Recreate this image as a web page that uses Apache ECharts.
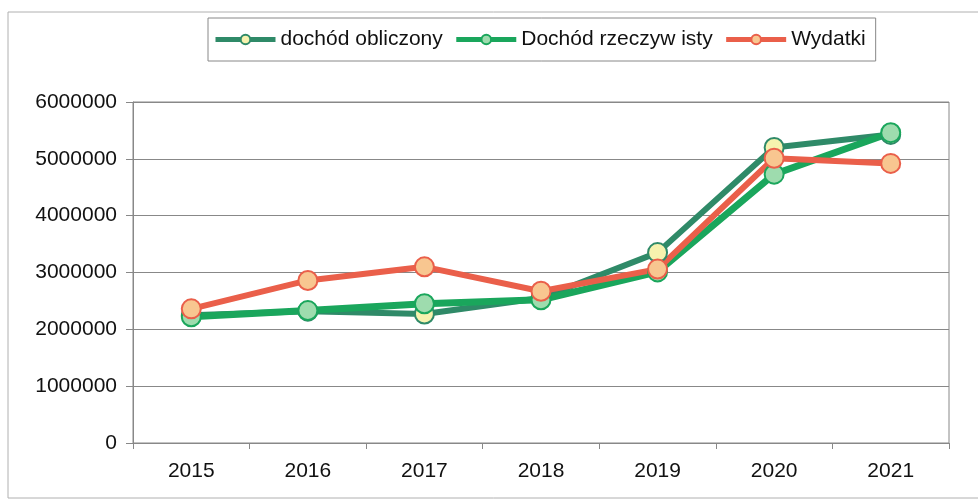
<!DOCTYPE html>
<html>
<head>
<meta charset="utf-8">
<script src="https://cdn.jsdelivr.net/npm/echarts@6/dist/echarts.min.js"></script>
<style>
  html, body { margin: 0; padding: 0; background: #fff; }
  #chart { width: 978px; height: 501px; }
</style>
</head>
<body>
<div id="chart"></div>
<script>
// lata (kategorie osi X)
var years = ['2015', '2016', '2017', '2018', '2019', '2020', '2021'];
// wartości
var dochodObliczony = [2250000, 2320000, 2270000, 2550000, 3350000, 5200000, 5430000];
var dochodRzeczywisty = [2220000, 2330000, 2450000, 2520000, 3010000, 4730000, 5460000];
var wydatki = [2360000, 2860000, 3100000, 2670000, 3060000, 5010000, 4920000];
// oś Y
var yMin = 0, yMax = 6000000, yStep = 1000000;

var chart = echarts.init(document.getElementById('chart'));

function lineSeries(name, data, lineColor, fillColor, width) {
  return {
    name: name,
    type: 'line',
    data: data,
    symbol: 'circle',
    symbolSize: 19,
    lineStyle: { color: lineColor, width: width },
    itemStyle: { color: fillColor, borderColor: lineColor, borderWidth: 2 },
    emphasis: { disabled: true },
    z: 2
  };
}

chart.setOption({
  animation: false,
  textStyle: { fontFamily: 'Liberation Sans, Arial, sans-serif' },
  graphic: [{
    type: 'rect',
    shape: { x: 8, y: 12, width: 990, height: 486 },
    style: { fill: 'none', stroke: '#b0b0b0', lineWidth: 1 },
    silent: true
  }],
  legend: {
    left: 208,
    top: 18,
    padding: [11, 10, 11, 5],
    itemGap: 11,
    itemWidth: 60,
    itemHeight: 12,
    borderColor: '#888',
    borderWidth: 1,
    lineStyle: { width: 5 },
    textStyle: { fontSize: 21, color: '#111' },
    data: ['dochód obliczony', 'Dochód rzeczyw isty', 'Wydatki']
  },
  grid: {
    left: 133, right: 29, top: 102, bottom: 58,
    show: true, borderColor: '#888', borderWidth: 1
  },
  xAxis: {
    type: 'category',
    data: years,
    boundaryGap: true,
    axisLine: { lineStyle: { color: '#888', width: 1 } },
    axisTick: { show: true, length: 6, lineStyle: { color: '#888' } },
    axisLabel: { fontSize: 21, color: '#111', margin: 18 }
  },
  yAxis: {
    type: 'value',
    min: yMin, max: yMax, interval: yStep,
    axisLine: { show: true, lineStyle: { color: '#888', width: 1 } },
    axisTick: { show: true, length: 7, lineStyle: { color: '#888' } },
    splitLine: { lineStyle: { color: '#888', width: 1 } },
    axisLabel: {
      fontSize: 21, color: '#111', margin: 16,
      formatter: function (v) { return String(v); }
    }
  },
  series: [
    lineSeries('dochód obliczony', dochodObliczony, '#2f8a68', '#f6f2ae', 6),
    lineSeries('Dochód rzeczyw isty', dochodRzeczywisty, '#1aa65c', '#9edcae', 7),
    lineSeries('Wydatki', wydatki, '#ea5f4a', '#f8c690', 6)
  ]
});
</script>
</body>
</html>
